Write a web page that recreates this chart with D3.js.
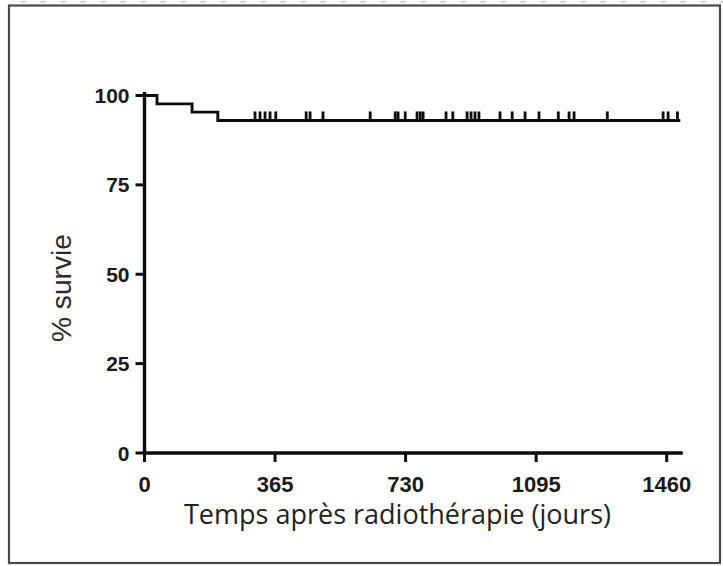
<!DOCTYPE html>
<html>
<head>
<meta charset="utf-8">
<script src="https://cdn.jsdelivr.net/npm/d3@7"></script>
<style>
  html, body { margin: 0; padding: 0; background: #ffffff; }
  svg { display: block; }
</style>
</head>
<body>
<div id="chart"></div>
<script>
// ---- Data ----
const eventDays = [0, 35, 133, 205];
const survivalPct = [100, 97.67, 95.35, 93.02];
const lastFollowUpDay = 1498;
const censoredDays = [309, 323, 337, 351, 367, 452, 463, 499, 631, 701, 709, 729,
  762, 771, 779, 843, 862, 902, 913, 924, 935, 994, 1028, 1064, 1103, 1157,
  1187, 1201, 1294, 1450, 1464, 1490];
const xTickValues = [0, 365, 730, 1095, 1460];
const yTickValues = [0, 25, 50, 75, 100];
const xTitle = "Temps après radiothérapie (jours)";
const yTitle = "% survie";

// ---- Layout ----
const W = 723, H = 566;
const svg = d3.select("#chart").append("svg").attr("width", W).attr("height", H);

// frame & dashed top line
svg.append("line").attr("x1", 20).attr("x2", W).attr("y1", 2).attr("y2", 2)
  .attr("stroke", "#d3d7dd").attr("stroke-width", 2).attr("stroke-dasharray", "6 14");
svg.append("rect").attr("x", 9).attr("y", 5.5).attr("width", 711).attr("height", 557.5)
  .attr("fill", "none").attr("stroke", "#4a4a4a").attr("stroke-width", 2.2);

const x = d3.scaleLinear().domain([0, 1460]).range([144.5, 666.7]);
const y = d3.scaleLinear().domain([0, 100]).range([453, 95.5]);
const xMax = 1505, yMax = 101;

const axisColor = "#0d0d0d";

// Survival step line
const pts = eventDays.map((d, i) => [d, survivalPct[i]]);
pts.push([lastFollowUpDay, survivalPct[survivalPct.length - 1]]);
const line = d3.line().x(d => x(d[0])).y(d => y(d[1])).curve(d3.curveStepAfter);
svg.append("path").attr("d", line(pts)).attr("fill", "none")
  .attr("stroke", axisColor).attr("stroke-width", 2.9);

// censor marks
function survAt(t) {
  let s = 100;
  eventDays.forEach((d, i) => { if (d <= t) s = survivalPct[i]; });
  return s;
}
svg.append("g").selectAll("line").data(censoredDays).join("line")
  .attr("x1", d => x(d)).attr("x2", d => x(d))
  .attr("y1", d => y(survAt(d)) - 9).attr("y2", d => y(survAt(d)) + 1)
  .attr("stroke", axisColor).attr("stroke-width", 2.8);

// Axes
const xAxisG = svg.append("g").attr("transform", `translate(0,${y(0)})`);
xAxisG.append("line").attr("x1", x(0) - 1.5).attr("x2", x(xMax)).attr("y1", 0).attr("y2", 0)
  .attr("stroke", axisColor).attr("stroke-width", 3.4);
xAxisG.selectAll("line.tick").data(xTickValues).join("line").attr("class", "tick")
  .attr("x1", d => x(d)).attr("x2", d => x(d)).attr("y1", 0).attr("y2", 9)
  .attr("stroke", axisColor).attr("stroke-width", 3);
xAxisG.selectAll("text").data(xTickValues).join("text")
  .attr("x", d => x(d)).attr("y", 39).attr("text-anchor", "middle")
  .attr("font-family", "'Liberation Sans', Arial, sans-serif").attr("font-weight", "bold")
  .attr("font-size", 22).attr("fill", "#1a1a1a").text(d => d);

const yAxisG = svg.append("g").attr("transform", `translate(${x(0)},0)`);
yAxisG.append("line").attr("x1", 0).attr("x2", 0).attr("y1", y(0) + 1.7).attr("y2", y(yMax))
  .attr("stroke", axisColor).attr("stroke-width", 3.4);
yAxisG.selectAll("line.tick").data(yTickValues).join("line").attr("class", "tick")
  .attr("x1", -9).attr("x2", 0).attr("y1", d => y(d)).attr("y2", d => y(d))
  .attr("stroke", axisColor).attr("stroke-width", 3);
yAxisG.selectAll("text").data(yTickValues).join("text")
  .attr("x", -15).attr("y", d => y(d) + 7.5).attr("text-anchor", "end")
  .attr("font-family", "'Liberation Sans', Arial, sans-serif").attr("font-weight", "bold")
  .attr("font-size", 21).attr("fill", "#1a1a1a").text(d => d);

// Titles
const xt = svg.append("text").attr("x", 397.5).attr("y", 524).attr("text-anchor", "middle")
  .attr("font-family", "'Open Sans', sans-serif").attr("font-size", 24)
  .attr("fill", "#222").text(xTitle);
const xtLen = xt.node().getComputedTextLength();
xt.attr("font-size", 24 * 427 / xtLen);

const yt = svg.append("text").attr("transform", "translate(71,288) rotate(-90)")
  .attr("text-anchor", "middle")
  .attr("font-family", "'Liberation Sans', Arial, sans-serif").attr("font-size", 24)
  .attr("fill", "#2a2a2a").text(yTitle);
const ytLen = yt.node().getComputedTextLength();
yt.attr("font-size", 24 * 108 / ytLen);
</script>
</body>
</html>
